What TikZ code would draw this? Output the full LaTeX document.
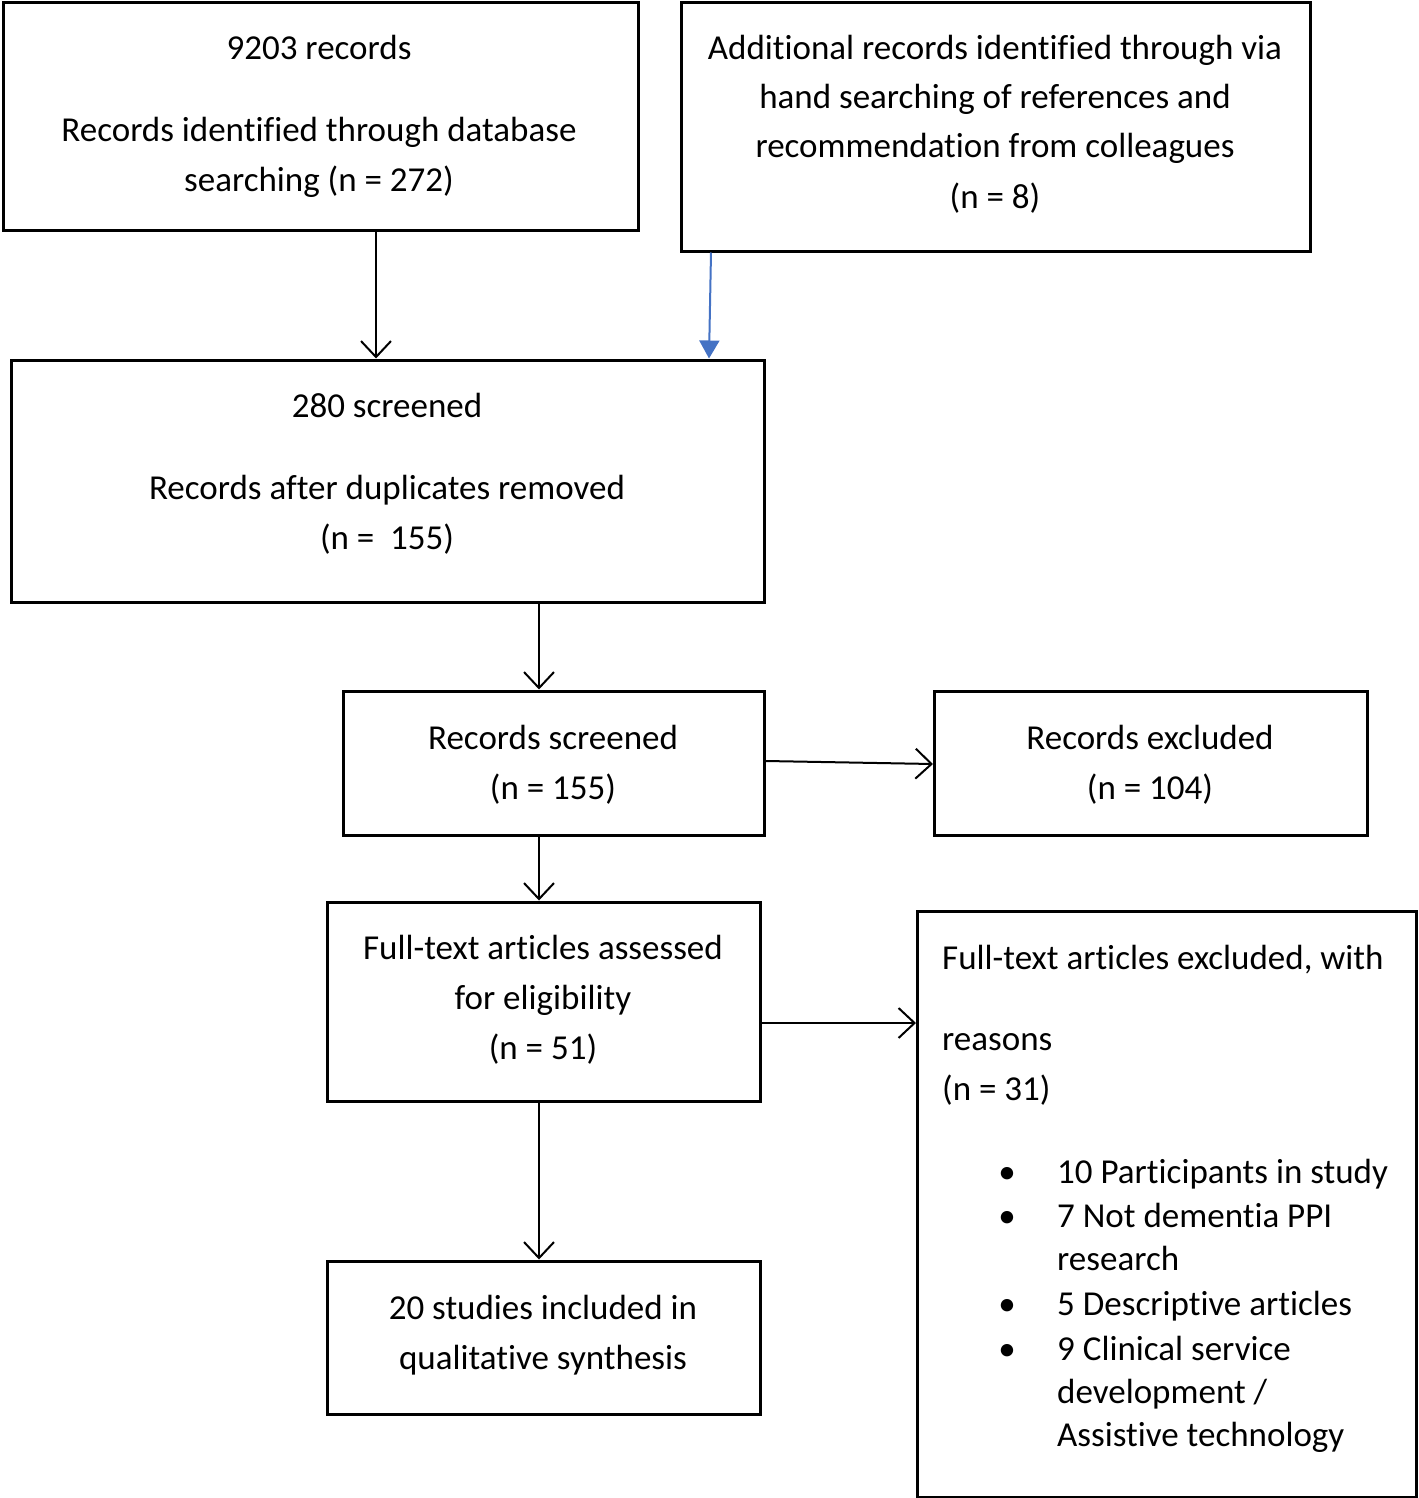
\documentclass[tikz,border=0pt]{standalone}
\usepackage{fontspec}
\setmainfont[Ligatures=NoCommon]{Carlito}
\usetikzlibrary{arrows.meta}
\definecolor{arrowblue}{HTML}{4472C4}
\begin{document}
\begin{tikzpicture}[x=1pt,y=-1pt,
  box/.style={draw,line width=3pt,inner sep=0pt,anchor=north west},
  txt/.style={anchor=base,inner sep=0pt,font=\fontsize{35}{43}\selectfont},
  ltxt/.style={anchor=base west,inner sep=0pt,font=\fontsize{35}{43}\selectfont},
  conn/.style={line width=2pt,-{Straight Barb[length=16pt,width=30pt,line width=2pt]}},
  blueconn/.style={line width=2pt,arrowblue,-{Triangle[length=18pt,width=20pt]}}
]
\useasboundingbox (0,0) rectangle (1418,1498);
% boxes
\node[box,minimum width=635pt,minimum height=227pt] (a) at (1.5,1.5) {};
\node[box,minimum width=629pt,minimum height=248pt] (b) at (680,1.5) {};
\node[box,minimum width=753pt,minimum height=242pt] (c) at (10,358.5) {};
\node[box,minimum width=421pt,minimum height=144pt] (d) at (342,689.5) {};
\node[box,minimum width=433pt,minimum height=144pt] (e) at (933,689.5) {};
\node[box,minimum width=433pt,minimum height=199pt] (f) at (326,900.5) {};
\node[box,minimum width=499pt,minimum height=586pt] (g) at (916,909.5) {};
\node[box,minimum width=433pt,minimum height=153pt] (h) at (326,1259.5) {};
% texts
\node[txt] (a1) at (319,60) {9203 records};
\node[txt] (a2) at (319,142) {Records identified through database};
\node[txt] (a3) at (319,191) {searching (n = 272)};
\node[txt] (b1) at (995,60) {Additional records identified through via};
\node[txt] (b2) at (995,109) {hand searching of references and};
\node[txt] (b3) at (995,158) {recommendation from colleagues};
\node[txt] (b4) at (995,208) {(n = 8)};
\node[txt] (c1) at (387,417) {280 screened};
\node[txt] (c2) at (387,499) {Records after duplicates removed};
\node[txt] (c3) at (387,549) {(n =\ \ 155)};
\node[txt] (d1) at (553,749) {Records screened};
\node[txt] (d2) at (553,799) {(n = 155)};
\node[txt] (e1) at (1150,749) {Records excluded};
\node[txt] (e2) at (1150,799) {(n = 104)};
\node[txt] (f1) at (543,959) {Full-text articles assessed};
\node[txt] (f2) at (543,1009) {for eligibility};
\node[txt] (f3) at (543,1059) {(n = 51)};
\node[ltxt] (g1) at (942,969) {Full-text articles excluded, with};
\node[ltxt] (g2) at (942,1050) {reasons};
\node[ltxt] (g3) at (942,1100) {(n = 31)};
\foreach \yy/\nm in {1183/gb1,1227/gb2,1315/gb3,1360/gb4}{
  \node[txt] (\nm) at (1007,\yy) {•};
}
\node[ltxt] (g4) at (1057,1183) {10 Participants in study};
\node[ltxt] (g5) at (1057,1227) {7 Not dementia PPI};
\node[ltxt] (g6) at (1057,1270) {research};
\node[ltxt] (g7) at (1057,1315) {5 Descriptive articles};
\node[ltxt] (g8) at (1057,1360) {9 Clinical service};
\node[ltxt] (g9) at (1057,1403) {development /};
\node[ltxt] (g10) at (1057,1446) {Assistive technology};
\node[txt] (h1) at (543,1319) {20 studies included in};
\node[txt] (h2) at (543,1369) {qualitative synthesis};
% connector guides
\coordinate (xa) at (376,0);
\coordinate (xm) at (539,0);
\coordinate (yfg) at (0,1023);
% connectors
\draw[conn] (a.south -| xa) -- (c.north -| xa);
\draw[blueconn] ([xshift=31pt]b.south west) -- ([xshift=699pt]c.north west);
\draw[conn] (c.south -| xm) -- (d.north -| xm);
\draw[conn] ([yshift=2pt]d.east) -- ([yshift=-1pt]e.west);
\draw[conn] (d.south -| xm) -- (f.north -| xm);
\draw[conn] (f.east |- yfg) -- (g.west |- yfg);
\draw[conn] (f.south -| xm) -- (h.north -| xm);
\end{tikzpicture}
\end{document}
